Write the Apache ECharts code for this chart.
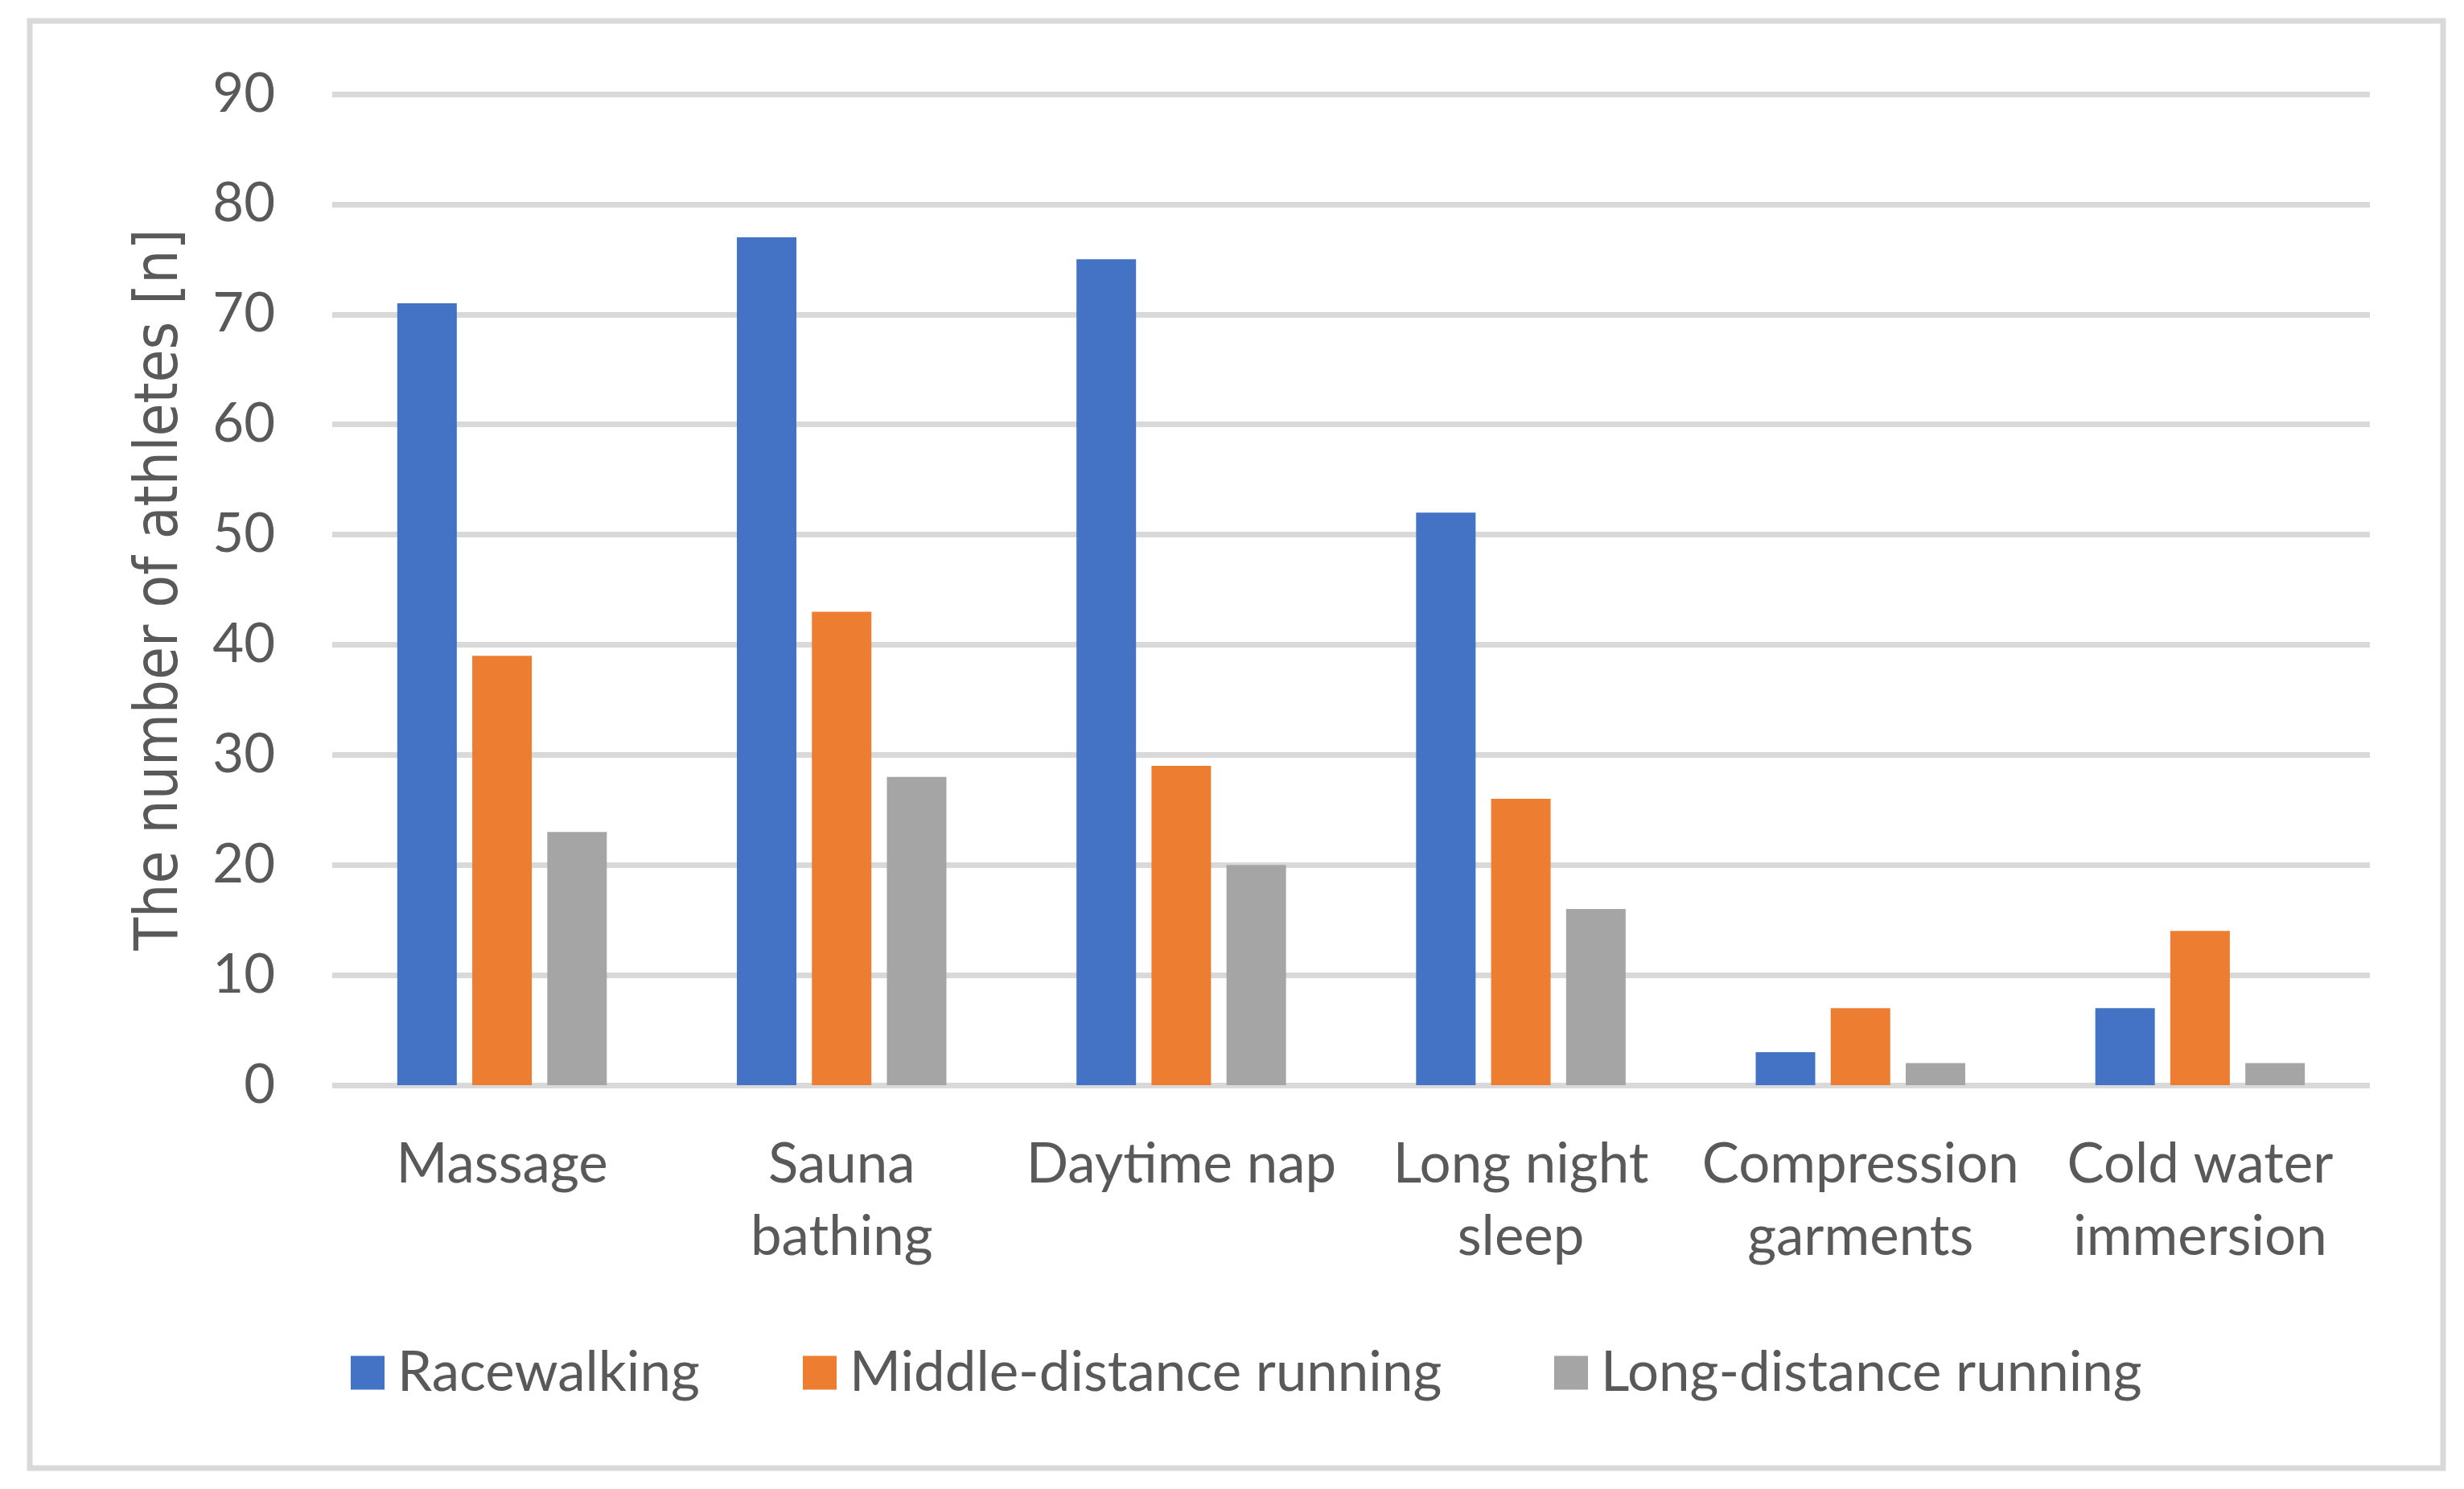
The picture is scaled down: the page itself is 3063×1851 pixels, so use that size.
<!DOCTYPE html>
<html>
<head>
<meta charset="utf-8">
<script src="https://cdn.jsdelivr.net/npm/echarts@6/dist/echarts.min.js"></script>
<style>
html,body{margin:0;padding:0;background:#fff;}
#chart{width:3063px;height:1851px;}
</style>
</head>
<body>
<div id="chart"></div>
<script>
const categories = ['Massage', 'Sauna\nbathing', 'Daytime nap', 'Long night\nsleep', 'Compression\ngarments', 'Cold water\nimmersion'];
const seriesNames = ['Racewalking', 'Middle-distance running', 'Long-distance running'];
const racewalking = [71, 77, 75, 52, 3, 7];
const middleDistance = [39, 43, 29, 26, 7, 14];
const longDistance = [23, 28, 20, 16, 2, 2];
const yAxisName = 'The number of athletes [n]';

const colors = ['#4472c4', '#ed7d31', '#a5a5a5'];
const textColor = '#595959';
const labelFont = 'Lato, "Open Sans", sans-serif';

const chart = echarts.init(document.getElementById('chart'));

function legendFor(name, left) {
  return {
    data: [name],
    left: left,
    top: 1672,
    padding: 0,
    itemWidth: 42,
    itemHeight: 42,
    icon: 'rect',
    selectedMode: false,
    textStyle: { fontFamily: labelFont, fontSize: 69, color: textColor, padding: [0, 0, 0, 11] }
  };
}

chart.setOption({
  backgroundColor: '#ffffff',
  color: colors,
  animation: false,
  graphic: [{
    type: 'rect',
    shape: { x: 37, y: 26, width: 3000, height: 1799 },
    style: { fill: 'none', stroke: '#d9d9d9', lineWidth: 7 },
    silent: true
  }],
  legend: [
    legendFor(seriesNames[0], 436),
    legendFor(seriesNames[1], 998),
    legendFor(seriesNames[2], 1932)
  ],
  grid: { left: 413, right: 117, top: 117, bottom: 502, containLabel: false },
  xAxis: {
    type: 'category',
    data: categories,
    axisLine: { show: false },
    axisTick: { show: false },
    axisLabel: {
      interval: 0,
      margin: 54,
      fontFamily: labelFont,
      fontSize: 69,
      lineHeight: 90,
      color: textColor
    }
  },
  yAxis: {
    type: 'value',
    min: 0,
    max: 90,
    interval: 10,
    name: yAxisName,
    nameLocation: 'middle',
    nameRotate: 90,
    nameGap: 175,
    nameTextStyle: {
      fontFamily: '"DejaVu Sans Condensed", "DejaVu Sans", sans-serif',
      fontSize: 74,
      color: textColor
    },
    axisLine: { show: false },
    axisTick: { show: false },
    axisLabel: {
      margin: 71,
      fontFamily: labelFont,
      fontSize: 67,
      color: textColor
    },
    splitLine: { lineStyle: { color: '#d9d9d9', width: 7 } }
  },
  series: [
    { name: seriesNames[0], type: 'bar', data: racewalking, barWidth: 74, barGap: '26%', z: 3 },
    { name: seriesNames[1], type: 'bar', data: middleDistance, barWidth: 74, barGap: '26%', z: 3 },
    { name: seriesNames[2], type: 'bar', data: longDistance, barWidth: 74, barGap: '26%', z: 3 }
  ]
});
</script>
</body>
</html>
